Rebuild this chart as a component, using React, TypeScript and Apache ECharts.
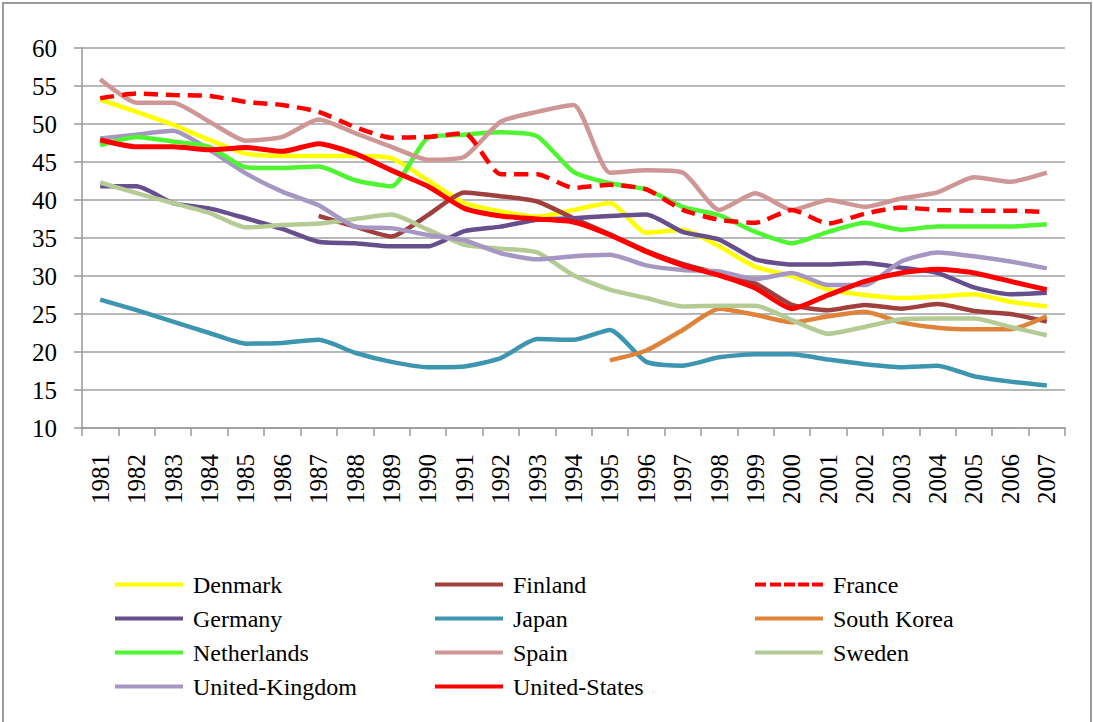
import React, { useEffect, useRef } from "react";
import * as echarts from "echarts";

const years = ["1981","1982","1983","1984","1985","1986","1987","1988","1989","1990","1991","1992","1993","1994","1995","1996","1997","1998","1999","2000","2001","2002","2003","2004","2005","2006","2007"];

const denmark = [53.2,51.6,49.9,47.9,46.1,45.8,45.8,45.8,45.5,42.6,39.6,38.5,37.8,38.7,39.6,35.7,36.1,33.9,31.2,30.0,28.2,27.5,27.1,27.3,27.6,26.6,26.0];
const finland = [null,null,null,null,null,null,37.9,36.5,35.2,38.0,41.0,40.5,39.8,37.6,35.5,33.3,31.6,30.3,29.0,26.2,25.5,26.2,25.7,26.3,25.4,25.0,24.0];
const france = [53.4,54.0,53.8,53.7,52.9,52.5,51.6,49.6,48.2,48.3,48.8,43.4,43.4,41.6,42.0,41.4,38.7,37.4,37.0,38.7,36.9,38.2,39.0,38.7,38.6,38.6,38.4];
const germany = [41.8,41.8,39.6,38.9,37.6,36.2,34.5,34.3,33.9,33.9,35.9,36.5,37.4,37.6,37.9,38.1,35.8,34.8,32.2,31.5,31.5,31.7,31.1,30.4,28.5,27.6,27.8];
const japan = [26.9,25.5,24.0,22.5,21.1,21.2,21.6,19.9,18.7,18.0,18.1,19.2,21.7,21.6,22.9,18.7,18.2,19.3,19.7,19.7,19.0,18.4,18.0,18.2,16.8,16.1,15.6];
const southKorea = [null,null,null,null,null,null,null,null,null,null,null,null,null,null,18.9,20.2,22.9,25.7,24.9,23.9,24.7,25.3,23.9,23.2,23.0,23.0,24.7];
const netherlands = [47.2,48.3,47.7,47.0,44.3,44.2,44.4,42.6,41.8,48.2,48.6,48.9,48.4,43.7,42.2,41.4,39.1,38.0,35.8,34.3,35.8,37.0,36.1,36.5,36.5,36.5,36.8];
const spain = [55.9,52.8,52.8,50.3,47.8,48.3,50.6,48.8,47.0,45.3,45.7,50.3,51.6,52.5,43.6,43.9,43.6,38.7,40.9,38.7,40.0,39.1,40.2,41.0,43.0,42.4,43.6];
const sweden = [42.3,40.9,39.6,38.3,36.4,36.7,36.9,37.5,38.1,36.1,34.1,33.6,33.1,30.1,28.2,27.1,26.0,26.1,26.1,24.2,22.4,23.3,24.3,24.4,24.4,23.3,22.2];
const unitedKingdom = [48.1,48.6,49.1,46.6,43.5,41.1,39.3,36.5,36.3,35.4,34.7,33.0,32.2,32.6,32.8,31.4,30.8,30.6,29.6,30.4,28.8,28.8,31.9,33.1,32.6,31.9,31.0];
const unitedStates = [47.9,47.0,47.0,46.6,46.9,46.4,47.4,46.1,43.9,41.8,38.9,37.9,37.5,37.1,35.4,33.2,31.4,30.1,28.4,25.7,27.5,29.3,30.4,30.9,30.4,29.3,28.2];

const legendOrder = ["Denmark","Finland","France","Germany","Japan","South Korea","Netherlands","Spain","Sweden","United-Kingdom","United-States"];

const FONT = "Times New Roman";

const SOLID_ICON = "path://M0,0h68v4h-68z";
const DASH_ICON = "path://M0,0h11v4h-11zM15,0h11v4h-11zM29,0h11v4h-11zM43,0h11v4h-11zM57,0h11v4h-11z";

function mk(name: string, data: (number | null)[], color: string, dashed = false, width = 4.5) {
  return {
    name,
    type: "line",
    data,
    symbol: "none",
    smooth: 0.2,
    connectNulls: false,
    lineStyle: { color, width, type: dashed ? [14, 8] : "solid", cap: "butt" },
    itemStyle: { color },
  };
}

export default function App() {
  const ref = useRef<HTMLDivElement>(null);
  useEffect(() => {
    document.body.style.margin = "0";
    const chart = echarts.init(ref.current!, null, { renderer: "svg" });
    chart.setOption({
      animation: false,
      backgroundColor: "#ffffff",
      textStyle: { fontFamily: FONT },
      graphic: [
        {
          type: "rect",
          shape: { x: 3, y: 3, width: 1088, height: 740 },
          style: { fill: "none", stroke: "#9a9a9a", lineWidth: 2 },
          silent: true,
        },
      ],
      grid: { left: 82, right: 28, top: 48, bottom: 294, containLabel: false },
      xAxis: {
        type: "category",
        data: years,
        boundaryGap: true,
        axisLine: { lineStyle: { color: "#999999", width: 1.5 } },
        axisTick: { show: true, inside: false, length: 8, alignWithLabel: false, lineStyle: { color: "#999999", width: 1.5 } },
        axisLabel: { rotate: 90, margin: 26, fontFamily: FONT, fontSize: 25, color: "#000000", interval: 0 },
        splitLine: { show: false },
      },
      yAxis: {
        type: "value",
        min: 10,
        max: 60,
        interval: 5,
        axisLine: { show: true, lineStyle: { color: "#999999", width: 1.5 } },
        axisTick: { show: true, inside: false, length: 8, lineStyle: { color: "#999999", width: 1.5 } },
        axisLabel: { margin: 25, fontFamily: FONT, fontSize: 25, color: "#000000" },
        splitLine: { show: true, lineStyle: { color: "#a0a0a0", width: 1.5 } },
      },
      legend: {
        data: legendOrder.map((n) => ({ name: n, icon: n === "France" ? DASH_ICON : SOLID_ICON })),
        left: 115,
        top: 571,
        width: 980,
        padding: 0,
        orient: "horizontal",
        itemWidth: 68,
        itemHeight: 4,
        itemGap: 7,
        symbolKeepAspect: false,
        textStyle: { fontFamily: FONT, fontSize: 24, color: "#000000", width: 235, lineHeight: 27, padding: [0, 0, 0, 5] },
      },
      series: [
        mk("Denmark", denmark, "#FFFF00"),
        mk("Finland", finland, "#A0403E"),
        mk("Germany", germany, "#664F8C"),
        mk("Japan", japan, "#3E95AF"),
        mk("South Korea", southKorea, "#DE8339"),
        mk("Sweden", sweden, "#B5CB95"),
        mk("United-Kingdom", unitedKingdom, "#A597C2"),
        mk("Netherlands", netherlands, "#50F532"),
        mk("Spain", spain, "#CF9696"),
        mk("France", france, "#FF0000", true),
        mk("United-States", unitedStates, "#FF0000", false, 5),
      ],
    });
    return () => chart.dispose();
  }, []);
  return <div ref={ref} style={{ width: 1093, height: 722 }} />;
}
